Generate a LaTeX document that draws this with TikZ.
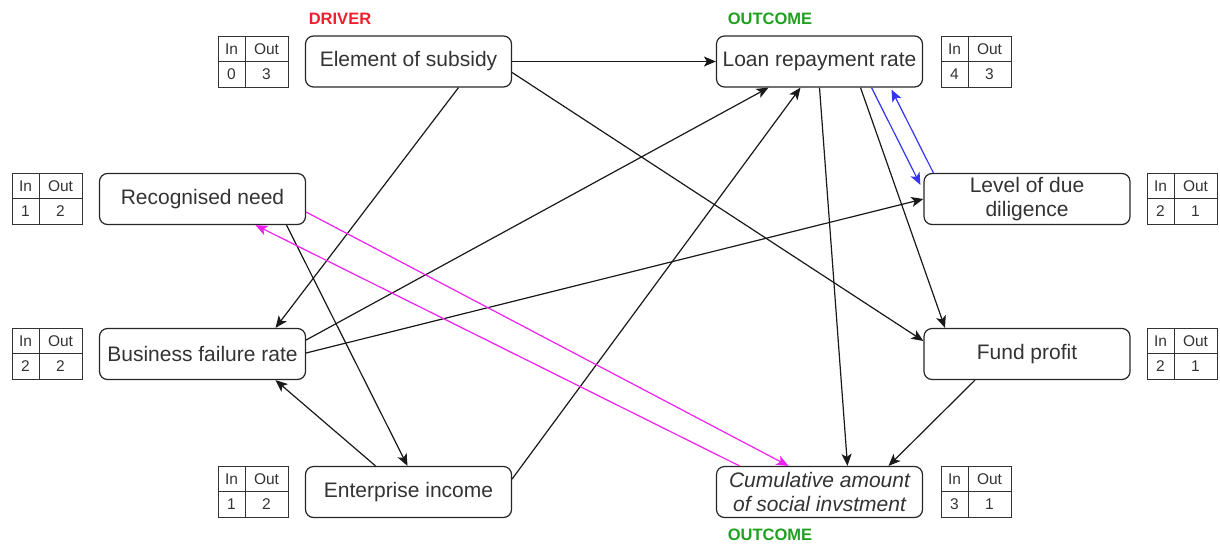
\documentclass[tikz,border=0pt]{standalone}
\usepackage{fontspec}
\setmainfont{Liberation Sans}
\usetikzlibrary{arrows.meta,calc}
\definecolor{txt}{HTML}{333333}
\definecolor{drv}{HTML}{F01E2E}
\definecolor{outc}{HTML}{1FA01F}
\definecolor{mag}{HTML}{F020F0}
\definecolor{blu}{HTML}{3535F0}

\tikzset{
  factor/.style={draw=black!85, line width=1.2pt, rounded corners=8pt, minimum width=206pt,
    minimum height=51pt, inner sep=0pt, align=center, text=txt,
    font=\fontsize{21}{24}\selectfont},
  tag/.style={font=\bfseries\fontsize{16.5}{18}\selectfont, inner sep=0pt},
  link/.style={line width=1.2pt, black!90, -{Stealth[length=12pt,width=10pt,inset=3pt]}},
  pinklink/.style={link, mag},
  bluelink/.style={link, blu},
  cell/.style={font=\fontsize{15.5}{16}\selectfont, text=txt, inner sep=0pt},
}

% in/out degree table: name, top-left x, top-left y, in, out
\newcommand{\degtab}[5]{%
  \draw[line width=0.9pt, black!80] (#2,#3) rectangle ++(70,51)
    (#2+27,#3) -- ++(0,51) (#2,#3+25.5) -- ++(70,0);
  \node[cell] (#1-hi) at (#2+13.5,#3+13) {In};
  \node[cell] (#1-ho) at (#2+48.5,#3+13) {Out};
  \node[cell] (#1-vi) at (#2+13.5,#3+38.5) {#4};
  \node[cell] (#1-vo) at (#2+48.5,#3+38.5) {#5};
}

\begin{document}
\begin{tikzpicture}[x=1pt,y=-1pt]
\useasboundingbox (0,0) rectangle (1220,544);

% factors
\node[factor] (es)  at (408.5,61.5) {Element of subsidy};
\node[factor] (lrr) at (819.5,61.5) {Loan repayment rate};
\node[factor] (rn)  at (202.5,199) {Recognised need};
\node[factor] (ldd) at (1027,199) {Level of due\\diligence};
\node[factor] (bfr) at (202.5,354) {Business failure rate};
\node[factor] (fp)  at (1027,354) {Fund profit};
\node[factor] (ei)  at (408.5,492) {Enterprise income};
\node[factor] (ca)  at (819.5,492) {\itshape Cumulative amount\\\itshape of social invstment};

% role tags
\node[tag, text=drv]  (drvtag) at (340,19) {DRIVER};
\node[tag, text=outc] (outtop) at (770,19) {OUTCOME};
\node[tag, text=outc] (outbot) at (770,535) {OUTCOME};

% degree tables
\degtab{tes}{218}{36}{0}{3}
\degtab{tlrr}{941}{36}{4}{3}
\degtab{trn}{12}{173}{1}{2}
\degtab{tldd}{1147}{173}{2}{1}
\degtab{tbfr}{12}{328}{2}{2}
\degtab{tfp}{1147}{328}{2}{1}
\degtab{tei}{218}{466}{1}{2}
\degtab{tca}{941}{466}{3}{1}

% causal links
\draw[link] (es.east) -- (lrr.west);
\draw[link] ($(es.south)+(50,0)$) -- ($(bfr.north)+(73,0)$);
\draw[link] ($(es.east)+(0,11)$) -- ($(fp.west)+(0,-13)$);
\draw[link] ($(rn.south)+(84,0)$) -- ($(ei.north)+(-1,0)$);
\draw[link] ($(bfr.east)+(0,-14)$) -- ($(lrr.south)+(-51,0)$);
\draw[link] ($(bfr.east)+(0,-1)$) -- (ldd.west);
\draw[link] ($(ei.north)+(-33,0)$) -- ($(bfr.south)+(73,0)$);
\draw[link] ($(ei.east)+(0,-13)$) -- ($(lrr.south)+(-19,0)$);
\draw[link] (lrr.south) -- ($(ca.north)+(28,0)$);
\draw[link] ($(lrr.south)+(41,0)$) -- ($(fp.north)+(-82,0)$);
\draw[link] ($(fp.south)+(-52,0)$) -- ($(ca.north)+(69,0)$);

% feedback between need and social investment
\draw[pinklink] ($(rn.east)+(0,13)$) -- ($(ca.north)+(-31,0)$);
\draw[pinklink] ($(ca.north)+(-80,0)$) -- ($(rn.south)+(53,0)$);

% feedback between repayment and due diligence
\draw[bluelink] ($(lrr.south)+(52,0)$) -- ($(ldd.north west)+(-3,12)$);
\draw[bluelink] ($(ldd.north west)+(10,0)$) -- ($(lrr.south)+(72,2)$);
\end{tikzpicture}
\end{document}
